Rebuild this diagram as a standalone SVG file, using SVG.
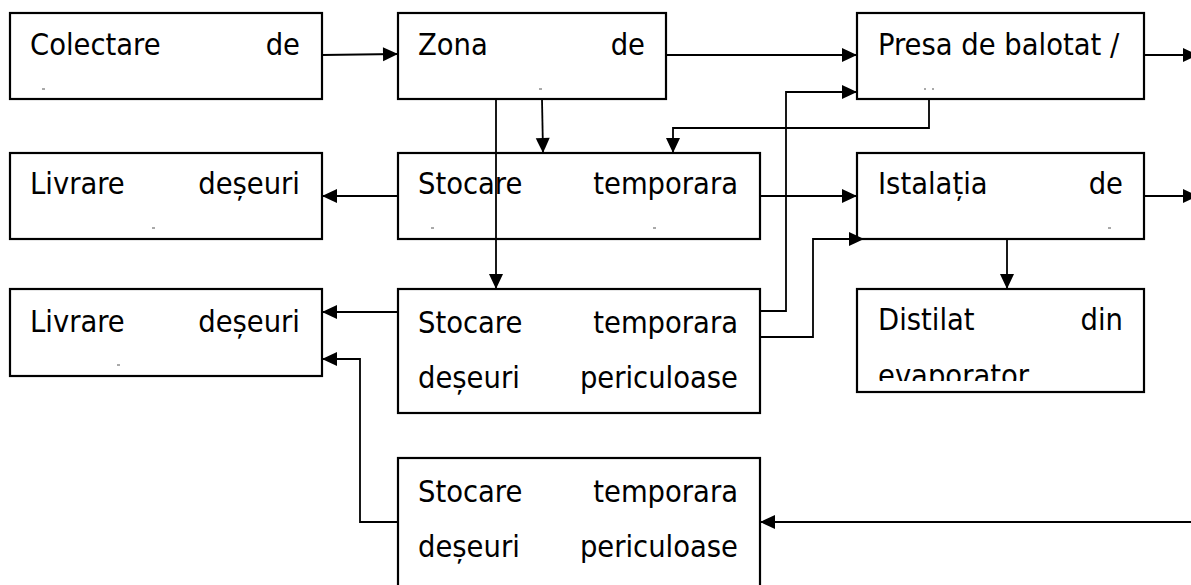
<svg xmlns="http://www.w3.org/2000/svg" width="1191" height="585" viewBox="0 0 1191 585">
<style>
.box{fill:#fff;stroke:#000;stroke-width:2.2}
.t{font-family:"DejaVu Sans Condensed","DejaVu Sans",sans-serif;font-stretch:condensed;font-size:30.5px;fill:#000}
.e{text-anchor:end}
.c{fill:none;stroke:#000;stroke-width:1.8}
.d{stroke:#555;stroke-width:1}
</style>
<defs>
<marker id="ah" markerUnits="userSpaceOnUse" markerWidth="15" markerHeight="15" refX="14" refY="7" orient="auto" overflow="visible">
<path d="M0,0 L15,7 L0,14 Z" fill="#000"/>
</marker>
<clipPath id="clipDist"><rect x="857" y="289" width="287" height="92"/></clipPath>
</defs>
<rect width="1191" height="585" fill="#fff"/>

<g id="n-colectare">
<rect class="box" x="10" y="13" width="312" height="86"/>
<text class="t" x="30" y="55">Colectare</text>
<text class="t e" x="300" y="55">de</text>
<line class="d" x1="42" y1="89" x2="45" y2="89"/>
</g>

<g id="n-zona">
<rect class="box" x="398" y="13" width="268" height="86"/>
<text class="t" x="418" y="55">Zona</text>
<text class="t e" x="645" y="55">de</text>
<line class="d" x1="539" y1="89" x2="542" y2="89"/>
</g>

<g id="n-presa">
<rect class="box" x="857" y="13" width="287" height="86"/>
<text class="t" x="878" y="55">Presa de balotat /</text>
<line class="d" x1="924" y1="89" x2="926" y2="89"/>
<line class="d" x1="932" y1="89" x2="934" y2="89"/>
</g>

<g id="n-livrare1">
<rect class="box" x="10" y="153" width="312" height="86"/>
<text class="t" x="30" y="194">Livrare</text>
<text class="t e" x="300" y="194">deșeuri</text>
<line class="d" x1="152" y1="228" x2="155" y2="228"/>
</g>

<g id="n-stocare1">
<rect class="box" x="398" y="153" width="362" height="86"/>
<text class="t" x="418" y="194">Stocare</text>
<text class="t e" x="738" y="194">temporara</text>
<line class="d" x1="431" y1="228" x2="434" y2="228"/>
<line class="d" x1="653" y1="228" x2="656" y2="228"/>
</g>

<g id="n-istalatia">
<rect class="box" x="857" y="153" width="287" height="86"/>
<text class="t" x="878" y="194">Istalația</text>
<text class="t e" x="1123" y="194">de</text>
<line class="d" x1="1108" y1="228" x2="1111" y2="228"/>
</g>

<g id="n-livrare2">
<rect class="box" x="10" y="289" width="312" height="87"/>
<text class="t" x="30" y="332">Livrare</text>
<text class="t e" x="300" y="332">deșeuri</text>
<line class="d" x1="117" y1="365" x2="120" y2="365"/>
</g>

<g id="n-stocare2">
<rect class="box" x="398" y="289" width="362" height="124"/>
<text class="t" x="418" y="333">Stocare</text>
<text class="t e" x="738" y="333">temporara</text>
<text class="t" x="418" y="388">deșeuri</text>
<text class="t e" x="738" y="388">periculoase</text>
</g>

<g id="n-distilat">
<rect class="box" x="857" y="289" width="287" height="103"/>
<text class="t" x="878" y="330">Distilat</text>
<text class="t e" x="1123" y="330">din</text>
<text class="t" x="878" y="386" clip-path="url(#clipDist)">evaporator</text>
</g>

<g id="n-stocare3">
<rect class="box" x="398" y="458" width="362" height="140"/>
<text class="t" x="418" y="502">Stocare</text>
<text class="t e" x="738" y="502">temporara</text>
<text class="t" x="418" y="557">deșeuri</text>
<text class="t e" x="738" y="557">periculoase</text>
</g>

<g id="connectors">
<path class="c" d="M322,55 L397,54" marker-end="url(#ah)"/>
<path class="c" d="M666,55 L856,55" marker-end="url(#ah)"/>
<path class="c" d="M1144,55 L1197,55" marker-end="url(#ah)"/>
<path class="c" d="M542,99 L543,152" marker-end="url(#ah)"/>
<path class="c" d="M496,99 L496,288" marker-end="url(#ah)"/>
<path class="c" d="M929,99 L929,128 L673,128 L673,152" marker-end="url(#ah)"/>
<path class="c" d="M398,196 L323,196" marker-end="url(#ah)"/>
<path class="c" d="M760,196 L856,196" marker-end="url(#ah)"/>
<path class="c" d="M1144,196 L1197,196" marker-end="url(#ah)"/>
<path class="c" d="M760,311 L786,311 L786,92 L856,92" marker-end="url(#ah)"/>
<path class="c" d="M760,337 L813,337 L813,239 L863,239" marker-end="url(#ah)"/>
<path class="c" d="M1007,239 L1007,288" marker-end="url(#ah)"/>
<path class="c" d="M398,312 L323,312" marker-end="url(#ah)"/>
<path class="c" d="M398,522 L360,522 L360,359 L323,359" marker-end="url(#ah)"/>
<path class="c" d="M1191,522 L761,522" marker-end="url(#ah)"/>
</g>
</svg>
